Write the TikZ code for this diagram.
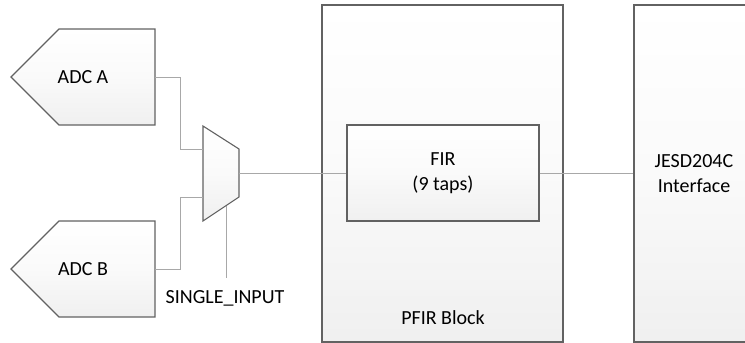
\documentclass[tikz,border=0pt]{standalone}
\usepackage{fontspec}
\setmainfont{Carlito}
\usepackage{tikz}
\usetikzlibrary{calc}
\usepackage{xcolor}
\definecolor{edgegray}{HTML}{626262}
\definecolor{wiregray}{HTML}{A8A8A8}

\begin{document}
\begin{tikzpicture}[x=1pt, y=-1pt,
  blk/.style={draw=edgegray, line width=1.1pt, top color=white, bottom color=black!6, middle color=black!2},
  wir/.style={draw=wiregray, line width=0.9pt},
  lbl/.style={font=\fontsize{20}{25}\selectfont, align=center, inner sep=0pt}]
\clip (0,0) rectangle (745,343);
% big blocks
\node[blk, minimum width=241pt, minimum height=337pt, inner sep=0pt] (pfir) at (442.5,173.5) {};
\node[blk, minimum width=130pt, minimum height=337pt, inner sep=0pt] (jesd) at (699,173.5) {};
\node[lbl] (pfirlbl) at (443,318) {PFIR Block};
\node[lbl] (jesdlbl) at (694,174) {JESD204C\\Interface};
\node[blk, lbl, minimum width=192pt, minimum height=96pt] (fir) at (443,173) {FIR\\(9 taps)};
% converters
\draw[blk] (59,29) -- (155,29) -- (155,125) -- (59,125) -- (11,77) -- cycle;
\draw[blk] (59,221) -- (155,221) -- (155,317) -- (59,317) -- (11,269) -- cycle;
\node[lbl] (adca) at (83,77) {ADC A};
\node[lbl] (adcb) at (83,269) {ADC B};
\coordinate (aout) at (155,77); \coordinate (bout) at (155,269);
% mux
\draw[blk] (203,126) -- (239,149) -- (239,197) -- (203,221) -- cycle;
\coordinate (muxa) at (203,149); \coordinate (muxb) at (203,197);
\coordinate (muxo) at (239,173); \coordinate (muxs) at (226,206);
\node[lbl, anchor=base] (sel) at (225,303) {SINGLE\_INPUT};
\coordinate (selend) at (226,278);
% wires
\draw[wir] (aout) -- ++(25,0) |- (muxa);
\draw[wir] (bout) -- ++(25,0) |- (muxb);
\draw[wir] (muxs) -- (selend);
\draw[wir] (muxo) -- (fir.west);
\draw[wir] (fir.east) -- (fir.east -| jesd.west);
\end{tikzpicture}
\end{document}
